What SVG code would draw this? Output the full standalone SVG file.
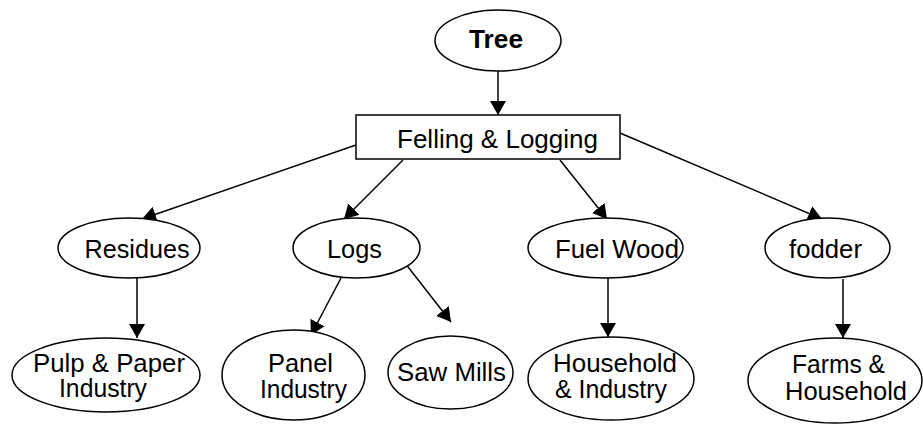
<svg xmlns="http://www.w3.org/2000/svg" width="923" height="424" viewBox="0 0 923 424">
<style>
.n{fill:#fff;stroke:#000;stroke-width:1.5}
.c{fill:none;stroke:#000;stroke-width:1.5;marker-end:url(#ah)}
text{font-family:"Liberation Sans",Arial,sans-serif;fill:#000;text-anchor:middle}
.m{font-size:25px}
.b{font-size:25px}
</style>
<defs>
<marker id="ah" markerUnits="userSpaceOnUse" markerWidth="15" markerHeight="16" refX="14" refY="8" orient="auto" viewBox="0 0 15 16">
<path d="M0,0 L14,8 L0,16 z" fill="#000"/>
</marker>
</defs>
<rect width="923" height="424" fill="#fff"/>
<g id="connectors">
<path class="c" d="M498,71 L498,115"/>
<path class="c" d="M356,145 L142,219"/>
<path class="c" d="M403,160 L344,219"/>
<path class="c" d="M560,160 L607,219"/>
<path class="c" d="M620,133 L822,219"/>
<path class="c" d="M137,278 L137,338"/>
<path class="c" d="M341,278 L311,335"/>
<path class="c" d="M405,263 L451,322"/>
<path class="c" d="M608,278 L608,337"/>
<path class="c" d="M843,279 L843,338"/>
</g>
<g id="tree">
<ellipse class="n" cx="498" cy="40.5" rx="63" ry="30.5"/>
<text x="496" y="48" style="font-size:25px;font-weight:bold" textLength="54" lengthAdjust="spacingAndGlyphs">Tree</text>
</g>
<g id="felling">
<rect class="n" x="356" y="115" width="264" height="44"/>
<text x="497.5" y="148" style="font-size:26px" textLength="201" lengthAdjust="spacingAndGlyphs">Felling &amp; Logging</text>
</g>
<g id="residues">
<ellipse class="n" cx="129" cy="248" rx="71" ry="30"/>
<text class="m" x="137" y="258" textLength="105" lengthAdjust="spacingAndGlyphs">Residues</text>
</g>
<g id="logs">
<ellipse class="n" cx="356.5" cy="248" rx="63.5" ry="30"/>
<text class="m" x="354.5" y="258" textLength="55" lengthAdjust="spacingAndGlyphs">Logs</text>
</g>
<g id="fuelwood">
<ellipse class="n" cx="605.5" cy="248" rx="77.5" ry="30"/>
<text class="m" x="617" y="258" textLength="124" lengthAdjust="spacingAndGlyphs">Fuel Wood</text>
</g>
<g id="fodder">
<ellipse class="n" cx="827.5" cy="248" rx="62.5" ry="30"/>
<text class="m" x="825.5" y="258" textLength="73" lengthAdjust="spacingAndGlyphs">fodder</text>
</g>
<g id="pulp">
<ellipse class="n" cx="106" cy="375" rx="94" ry="37"/>
<text class="b" x="109" y="372" textLength="152" lengthAdjust="spacingAndGlyphs">Pulp &amp; Paper</text>
<text class="b" x="103" y="397" textLength="88" lengthAdjust="spacingAndGlyphs">Industry</text>
</g>
<g id="panel">
<ellipse class="n" cx="293.5" cy="375" rx="71.5" ry="45"/>
<text class="b" x="300.5" y="372" textLength="65" lengthAdjust="spacingAndGlyphs">Panel</text>
<text class="b" x="303.5" y="398" textLength="87" lengthAdjust="spacingAndGlyphs">Industry</text>
</g>
<g id="sawmills">
<ellipse class="n" cx="450.5" cy="372.5" rx="62.5" ry="36.5"/>
<text class="b" x="451.5" y="381" textLength="109" lengthAdjust="spacingAndGlyphs">Saw Mills</text>
</g>
<g id="household">
<ellipse class="n" cx="611" cy="378.5" rx="83" ry="41.5"/>
<text class="b" x="615" y="372" textLength="124" lengthAdjust="spacingAndGlyphs">Household</text>
<text class="b" x="611" y="398" textLength="112" lengthAdjust="spacingAndGlyphs">&amp; Industry</text>
</g>
<g id="farms">
<ellipse class="n" cx="835" cy="380.5" rx="87" ry="42.5"/>
<text class="b" x="838.5" y="373" textLength="93" lengthAdjust="spacingAndGlyphs">Farms &amp;</text>
<text class="b" x="846" y="400" textLength="122" lengthAdjust="spacingAndGlyphs">Household</text>
</g>
</svg>
